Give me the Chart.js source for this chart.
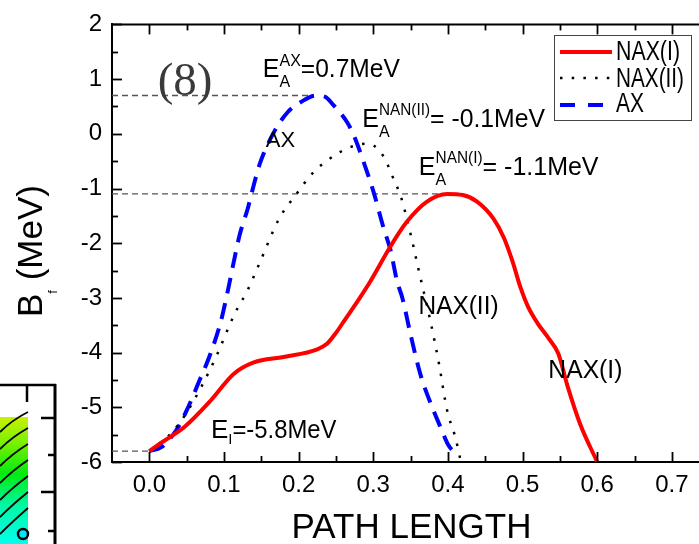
<!DOCTYPE html>
<html>
<head>
<meta charset="utf-8">
<script src="https://cdn.jsdelivr.net/npm/chart.js@4.4.1/dist/chart.umd.min.js"></script>
<style>
html,body{margin:0;padding:0;background:#fff;overflow:hidden;}
#wrap{width:699px;height:544px;position:relative;}
</style>
</head>
<body>
<div id="wrap"><canvas id="c" width="699" height="544"></canvas></div>
<script>
const FONT = '"Liberation Sans", Arial, Helvetica, sans-serif';
const SERIF = '"Liberation Serif", "Times New Roman", serif';

// ---- tick labels ----
const xTickValues = [0, 0.1, 0.2, 0.3, 0.4, 0.5, 0.6, 0.7];
const yTickValues = [-6, -5, -4, -3, -2, -1, 0, 1, 2];

// ---- series: NAX(I) (red solid) ----
const naxIPath   = [0, 0.018, 0.047, 0.082, 0.113, 0.140, 0.180, 0.225, 0.238, 0.250, 0.262, 0.280, 0.296, 0.323, 0.345, 0.372, 0.399, 0.420, 0.439, 0.461, 0.475, 0.487, 0.497, 0.507, 0.520, 0.535, 0.548, 0.560, 0.577, 0.600];
const naxIEnergy = [-5.80, -5.63, -5.36, -4.88, -4.39, -4.18, -4.08, -3.94, -3.84, -3.64, -3.40, -3.04, -2.70, -2.06, -1.61, -1.24, -1.10, -1.12, -1.24, -1.55, -1.90, -2.35, -2.80, -3.15, -3.46, -3.74, -4.02, -4.60, -5.30, -6.00];

// ---- series: NAX(II) (black dotted) ----
const naxIIPath   = [0, 0.031, 0.053, 0.087, 0.114, 0.132, 0.145, 0.174, 0.196, 0.220, 0.256, 0.270, 0.290, 0.301, 0.314, 0.328, 0.337, 0.345, 0.352, 0.361, 0.377, 0.388, 0.399, 0.410, 0.417];
const naxIIEnergy = [-5.80, -5.45, -5.03, -4.15, -3.30, -2.85, -2.45, -1.55, -1.12, -0.70, -0.33, -0.24, -0.18, -0.22, -0.42, -0.85, -1.15, -1.55, -1.95, -2.50, -3.45, -4.20, -5.06, -5.55, -5.97];

// ---- series: AX (blue dashed) ----
const axPath   = [0, 0.016, 0.036, 0.051, 0.069, 0.080, 0.096, 0.105, 0.113, 0.121, 0.132, 0.141, 0.149, 0.167, 0.185, 0.203, 0.223, 0.235, 0.247, 0.265, 0.274, 0.287, 0.301, 0.314, 0.323, 0.332, 0.339, 0.350, 0.363, 0.379, 0.390, 0.401, 0.411];
const axEnergy = [-5.80, -5.73, -5.42, -5.03, -4.45, -4.09, -3.42, -2.88, -2.35, -1.85, -1.36, -0.88, -0.51, 0.03, 0.39, 0.58, 0.70, 0.68, 0.52, 0.21, -0.03, -0.51, -1.09, -1.73, -2.12, -2.70, -3.00, -3.67, -4.39, -5.00, -5.36, -5.70, -5.85];

// ---- reference energy levels (dashed guides) ----
const refLevelNames  = ['EA_AX', 'EA_NAX_I', 'E_I'];
const refLevelValues = [0.7, -1.1, -5.8];
const refLevelStart  = [-0.05, -0.05, -0.05];
const refLevelEnd    = [0.22, 0.40, 0.0];

const pts = (xs, ys) => xs.map((x, i) => ({x: x, y: ys[i]}));

const datasets = [
  {label: 'NAX(I)', data: pts(naxIPath, naxIEnergy), borderColor: '#ff0000', borderWidth: 4,
   pointRadius: 0, fill: false, cubicInterpolationMode: 'monotone', legendStyle: 'solid'},
  {label: 'NAX(II)', data: pts(naxIIPath, naxIIEnergy), borderColor: '#000000', borderWidth: 2.5,
   borderDash: [2.5, 9.5], pointRadius: 0, fill: false, cubicInterpolationMode: 'monotone', legendStyle: 'dot'},
  {label: 'AX', data: pts(axPath, axEnergy), borderColor: '#0000ff', borderWidth: 4,
   borderDash: [16, 10], pointRadius: 0, fill: false, cubicInterpolationMode: 'monotone', legendStyle: 'dash'}
];
refLevelValues.forEach((v, i) => {
  datasets.push({label: refLevelNames[i], isRef: true,
    data: pts([refLevelStart[i], refLevelEnd[i]], [v, v]),
    borderColor: '#555555', borderWidth: 1.3, borderDash: [6, 4], pointRadius: 0, fill: false});
});

// annotation anchors in data units
const annotations = [
  {x: 0.152, y: 1.031, parts: [{t: 'E', s: 25}, {t: 'AX', s: 16, dy: -11}, {t: 'A', s: 16, dy: 10, stack: true}, {t: '=0.7MeV', s: 25, max: 99}]},
  {x: 0.2854, y: 0.122, parts: [{t: 'E', s: 25}, {t: 'NAN(II)', s: 16, dy: -12, max: 51}, {t: 'A', s: 16, dy: 10, stack: true}, {t: '= -0.1MeV', s: 25, max: 115}]},
  {x: 0.3611, y: -0.751, parts: [{t: 'E', s: 25}, {t: 'NAN(I)', s: 16, dy: -12, max: 47}, {t: 'A', s: 16, dy: 10, stack: true}, {t: '= -1.1MeV', s: 25, max: 116}]},
  {x: 0.1561, y: -0.242, parts: [{t: 'AX', s: 22, max: 30}]},
  {x: 0.3607, y: -3.296, parts: [{t: 'NAX(II)', s: 25, max: 80}]},
  {x: 0.5346, y: -4.46, parts: [{t: 'NAX(I)', s: 25, max: 74}]},
  {x: 0.0825, y: -5.569, parts: [{t: 'E', s: 26}, {t: 'I', s: 15, dy: 6}, {t: '=-5.8MeV', s: 26, max: 104}]}
];

function richText(ctx, x, y, parts, family) {
  let cx = x, lastStart = x;
  ctx.textAlign = 'left';
  ctx.textBaseline = 'alphabetic';
  for (const p of parts) {
    ctx.font = p.s + 'px ' + (family || FONT);
    const start = p.stack ? lastStart : cx;
    const w = ctx.measureText(p.t).width;
    const dw = p.max ? Math.min(w, p.max) : w;
    if (p.max) ctx.fillText(p.t, start, y + (p.dy || 0), p.max);
    else ctx.fillText(p.t, start, y + (p.dy || 0));
    const end = start + dw;
    cx = p.stack ? Math.max(cx, end) : end;
    lastStart = start;
  }
  return cx;
}

const decoPlugin = {
  id: 'deco',
  beforeDraw(chart) {
    const ctx = chart.ctx;
    ctx.save();
    ctx.fillStyle = '#ffffff';
    ctx.fillRect(0, 0, chart.width, chart.height);
    // fragment of a neighbouring figure cropped at the left edge
    const g = ctx.createLinearGradient(0, 417, 0, 544);
    g.addColorStop(0, '#c8f200');
    g.addColorStop(0.2, '#7cf000');
    g.addColorStop(0.45, '#00ec10');
    g.addColorStop(0.7, '#00f8a8');
    g.addColorStop(1, '#00ffee');
    ctx.fillStyle = g;
    ctx.fillRect(0, 417, 28, 127);
    ctx.strokeStyle = '#000';
    ctx.lineWidth = 1.8;
    for (let k = 0; k < 7; k++) {
      const y0 = 432 + k * 17;
      ctx.beginPath();
      ctx.moveTo(0, y0);
      ctx.quadraticCurveTo(12, y0 - 12, 28, y0 - 20 - k);
      ctx.stroke();
    }
    ctx.fillStyle = '#00e5ff';
    ctx.beginPath(); ctx.arc(23, 534, 5, 0, Math.PI * 2); ctx.fill();
    ctx.lineWidth = 2.5;
    ctx.beginPath(); ctx.arc(23, 534, 5, 0, Math.PI * 2); ctx.stroke();
    ctx.lineWidth = 2.5;
    ctx.beginPath(); ctx.moveTo(0, 385); ctx.lineTo(56, 385); ctx.stroke();
    ctx.lineWidth = 3;
    ctx.beginPath(); ctx.moveTo(55, 384); ctx.lineTo(55, 544); ctx.stroke();
    ctx.lineWidth = 2.5;
    ctx.beginPath(); ctx.moveTo(27, 385); ctx.lineTo(27, 402); ctx.stroke();
    [[418, 41], [455, 48], [492, 41], [531, 48]].forEach(([yy, x0]) => {
      ctx.beginPath(); ctx.moveTo(x0, yy); ctx.lineTo(55, yy); ctx.stroke();
    });
    ctx.restore();
  },
  afterDraw(chart) {
    const ctx = chart.ctx;
    const ca = chart.chartArea;
    const xs = chart.scales.x, ys = chart.scales.y;
    ctx.save();
    // top frame line
    ctx.strokeStyle = '#000';
    ctx.lineWidth = 2;
    ctx.beginPath(); ctx.moveTo(ca.left, ca.top); ctx.lineTo(ca.right, ca.top); ctx.stroke();
    // inward tick marks
    ctx.lineWidth = 1.8;
    for (let v = 0; v <= 0.76; v += 0.05) {
      const val = Math.round(v * 100) / 100;
      if (val > xs.max) break;
      const px = Math.round(xs.getPixelForValue(val)) + 0.5;
      const major = Math.abs(val * 10 - Math.round(val * 10)) < 1e-6;
      const len = major ? 10 : 6;
      ctx.beginPath(); ctx.moveTo(px, ca.bottom); ctx.lineTo(px, ca.bottom - len); ctx.stroke();
      ctx.beginPath(); ctx.moveTo(px, ca.top); ctx.lineTo(px, ca.top + len); ctx.stroke();
    }
    for (let v = -6; v <= 2; v += 0.5) {
      const py = Math.round(ys.getPixelForValue(v)) + 0.5;
      const major = Number.isInteger(v);
      const len = major ? 10 : 6;
      ctx.beginPath(); ctx.moveTo(ca.left, py); ctx.lineTo(ca.left + len, py); ctx.stroke();
    }
    // "(8)" panel tag
    ctx.fillStyle = '#3a3a3a';
    ctx.font = '47px ' + SERIF;
    ctx.textAlign = 'left';
    ctx.textBaseline = 'alphabetic';
    ctx.fillText('(8)', xs.getPixelForValue(0.0112), ys.getPixelForValue(0.704));
    // annotations
    ctx.fillStyle = '#000';
    annotations.forEach(a => richText(ctx, xs.getPixelForValue(a.x), ys.getPixelForValue(a.y), a.parts));
    // axis titles
    ctx.font = '35px ' + FONT;
    ctx.textAlign = 'center';
    ctx.fillText('PATH LENGTH', 411.5, 538);
    ctx.save();
    ctx.translate(42, 317);
    ctx.rotate(-Math.PI / 2);
    richText(ctx, 0, 0, [{t: 'B', s: 35}, {t: 'f', s: 13, dy: 15}, {t: ' (MeV)', s: 35}]);
    ctx.restore();
    // legend
    ctx.strokeStyle = '#444';
    ctx.lineWidth = 1;
    ctx.strokeRect(554.5, 35.5, 137, 85);
    const legendRows = [52, 78, 105];
    const legendTextY = [60, 87, 112];
    const legendMax = [64, 68, 28];
    chart.data.datasets.filter(d => !d.isRef).forEach((d, i) => {
      const y = legendRows[i];
      ctx.strokeStyle = d.borderColor;
      ctx.lineWidth = d.legendStyle === 'dot' ? 2.5 : 4;
      if (d.legendStyle === 'dot') ctx.setLineDash([2.5, 9.2]);
      else if (d.legendStyle === 'dash') ctx.setLineDash([15, 13]);
      else ctx.setLineDash([]);
      ctx.beginPath(); ctx.moveTo(560, y); ctx.lineTo(612, y); ctx.stroke();
      ctx.setLineDash([]);
      ctx.fillStyle = '#000';
      ctx.font = '27px ' + FONT;
      ctx.textAlign = 'left';
      ctx.fillText(d.label, 616, legendTextY[i], legendMax[i]);
    });
    ctx.restore();
  }
};

new Chart(document.getElementById('c'), {
  type: 'line',
  data: {datasets: datasets},
  options: {
    responsive: false,
    animation: false,
    devicePixelRatio: 1,
    layout: {padding: {top: 22, left: 0, right: 0, bottom: 0}},
    plugins: {legend: {display: false}, tooltip: {enabled: false}},
    scales: {
      x: {
        type: 'linear', min: -0.05, max: 0.7364,
        afterBuildTicks: s => { s.ticks = xTickValues.map(v => ({value: v})); },
        afterFit: s => { s.height = 82; },
        grid: {display: false, drawTicks: false},
        border: {display: true, color: '#000', width: 2},
        ticks: {font: {family: FONT, size: 24}, color: '#000', padding: 9, maxRotation: 0, autoSkip: false,
                callback: v => Number(v).toFixed(1)}
      },
      y: {
        type: 'linear', min: -6, max: 2,
        afterBuildTicks: s => { s.ticks = yTickValues.map(v => ({value: v})); },
        afterFit: s => { s.width = 112; },
        grid: {display: false, drawTicks: false},
        border: {display: true, color: '#000', width: 2},
        ticks: {font: {family: FONT, size: 24}, color: '#000', padding: 10, autoSkip: false,
                callback: v => String(v)}
      }
    }
  },
  plugins: [decoPlugin]
});
</script>
</body>
</html>
